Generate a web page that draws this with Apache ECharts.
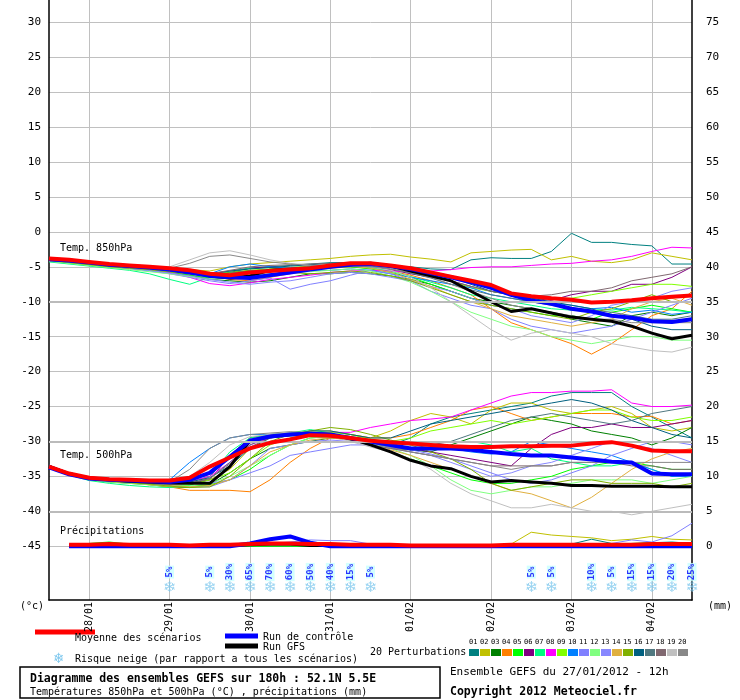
<!DOCTYPE html>
<html><head><meta charset="utf-8">
<script src="https://cdn.jsdelivr.net/npm/echarts@6/dist/echarts.min.js"></script>
<style>html,body{margin:0;padding:0;background:#fff}#c{width:740px;height:700px}</style>
</head><body><div id="c"></div>
<script>
const hours=[0,6,12,18,24,30,36,42,48,54,60,66,72,78,84,90,96,102,108,114,120,126,132,138,144,150,156,162,168,174,180,186,192];
const dateTicks=[12,36,60,84,108,132,156,180];
const dateLabels=['28/01','29/01','30/01','31/01','01/02','02/02','03/02','04/02'];
const leftTicks=[30,25,20,15,10,5,0,-5,-10,-15,-20,-25,-30,-35,-40,-45];
const rightTicks=[0,5,10,15,20,25,30,35,40,45,50,55,60,65,70,75];
const pertColors=['#008080','#c0c000','#008000','#ff8000','#00ff00','#800080','#00ff80','#ff00ff','#80ff00','#0080ff','#8080ff','#80ff80','#8888ff','#e0b040','#80b000','#006080','#507880','#806870','#c0c0c0','#888888'];

const mean850=[-3.8,-4.0,-4.3,-4.6,-4.8,-5.0,-5.2,-5.5,-6.0,-6.2,-5.8,-5.6,-5.4,-5.2,-4.8,-4.5,-4.5,-4.8,-5.2,-5.8,-6.4,-7.0,-7.6,-8.8,-9.2,-9.5,-9.7,-10.1,-10.0,-9.8,-9.5,-9.3,-9.1];
const ctrl850=[-3.9,-4.1,-4.4,-4.7,-4.9,-5.1,-5.4,-5.8,-6.3,-6.5,-6.6,-6.2,-5.8,-5.4,-5.0,-4.7,-4.6,-4.9,-5.3,-5.9,-6.5,-7.2,-8.0,-9.0,-9.8,-10.3,-11.0,-11.4,-12.0,-12.3,-12.8,-12.9,-12.5];
const gfs850=[-3.9,-4.1,-4.4,-4.7,-4.9,-5.1,-5.4,-5.8,-6.3,-6.6,-6.3,-5.5,-5.4,-5.2,-5.0,-4.7,-4.5,-4.9,-5.6,-6.3,-7.0,-8.5,-10.0,-11.4,-11.0,-11.6,-12.2,-12.5,-12.8,-13.5,-14.5,-15.3,-14.8];
const p850_01=[-4.0,-4.3,-4.6,-4.8,-5.0,-5.3,-5.6,-5.9,-6.2,-5.8,-5.2,-5.0,-4.8,-4.6,-4.4,-4.4,-4.6,-4.9,-5.0,-5.3,-5.4,-4.0,-3.7,-3.8,-3.8,-2.8,-0.2,-1.5,-1.5,-1.8,-2.0,-4.6,-4.6];
const p850_02=[-4.2,-4.4,-4.6,-4.7,-4.9,-5.0,-5.2,-5.4,-5.6,-5.0,-4.6,-4.4,-4.2,-4.0,-3.8,-3.5,-3.3,-3.2,-3.6,-3.9,-4.3,-3.0,-2.8,-2.6,-2.5,-4.0,-3.5,-4.2,-4.4,-4.0,-3.0,-3.5,-4.0];
const p850_03=[-4.1,-4.3,-4.6,-4.9,-5.1,-5.4,-5.8,-6.2,-6.8,-7.0,-7.2,-7.0,-6.5,-6.0,-6.0,-5.8,-6.0,-6.3,-6.8,-7.5,-8.5,-9.5,-10.0,-10.5,-11.0,-11.5,-12.5,-13.0,-13.5,-12.0,-11.5,-12.0,-11.5];
const p850_04=[-4.0,-4.2,-4.5,-4.7,-5.0,-5.2,-5.5,-5.9,-6.3,-6.8,-7.0,-6.5,-6.0,-5.5,-5.2,-5.0,-5.2,-5.6,-6.2,-7.0,-8.0,-9.0,-11.0,-13.0,-14.0,-15.0,-16.0,-17.5,-16.0,-14.0,-12.0,-11.0,-8.5];
const p850_05=[-4.2,-4.4,-4.7,-5.0,-5.2,-5.5,-5.8,-6.2,-6.6,-6.4,-6.0,-5.6,-5.4,-5.2,-5.0,-5.0,-5.3,-5.8,-6.5,-7.5,-8.5,-9.5,-10.5,-11.0,-11.5,-12.0,-12.0,-12.5,-11.5,-11.0,-10.5,-11.0,-11.5];
const p850_06=[-4.1,-4.3,-4.5,-4.8,-5.0,-5.2,-5.5,-5.8,-6.0,-5.6,-5.2,-5.0,-5.2,-5.3,-5.0,-4.8,-5.0,-5.4,-6.0,-6.5,-7.0,-7.8,-8.5,-9.0,-9.5,-9.8,-9.0,-8.5,-8.5,-7.5,-7.5,-6.5,-5.0];
const p850_07=[-4.3,-4.6,-4.9,-5.2,-5.5,-6.0,-6.8,-7.5,-6.5,-5.6,-5.2,-5.4,-5.5,-5.3,-5.0,-4.9,-5.1,-5.6,-6.4,-7.2,-8.0,-9.0,-9.5,-10.0,-10.5,-11.0,-11.2,-11.0,-11.2,-10.8,-11.0,-11.2,-11.5];
const p850_08=[-4.0,-4.2,-4.4,-4.7,-4.9,-5.3,-5.8,-6.5,-7.4,-7.7,-7.3,-6.8,-6.5,-6.2,-5.8,-5.6,-5.5,-5.6,-5.7,-5.6,-5.4,-5.1,-5.0,-5.0,-4.8,-4.6,-4.5,-4.2,-4.0,-3.5,-2.8,-2.2,-2.3];
const p850_09=[-4.1,-4.3,-4.6,-4.9,-5.1,-5.4,-5.7,-6.0,-6.3,-5.9,-5.5,-5.3,-5.1,-4.9,-4.7,-4.7,-4.8,-5.0,-5.5,-6.2,-7.0,-8.0,-8.5,-9.0,-9.3,-9.5,-9.5,-9.0,-8.5,-8.0,-7.5,-7.5,-7.8];
const p850_10=[-4.0,-4.2,-4.4,-4.7,-4.9,-5.2,-5.4,-5.7,-6.0,-5.0,-4.6,-5.0,-5.2,-5.5,-5.5,-5.3,-5.5,-6.0,-6.5,-7.0,-7.5,-8.0,-9.0,-9.5,-10.0,-10.2,-10.5,-11.0,-10.8,-11.5,-11.2,-11.8,-11.5];
const p850_11=[-4.2,-4.4,-4.7,-5.0,-5.3,-5.6,-6.0,-6.5,-7.0,-7.4,-7.0,-6.6,-8.2,-7.5,-7.0,-6.2,-5.5,-6.0,-7.0,-8.5,-9.5,-10.5,-11.0,-12.5,-13.5,-14.0,-14.5,-14.0,-13.5,-12.5,-11.5,-10.5,-9.5];
const p850_12=[-4.2,-4.5,-4.8,-5.1,-5.4,-5.7,-6.0,-6.4,-6.8,-6.5,-6.2,-6.0,-5.8,-5.7,-5.5,-5.3,-5.6,-6.3,-7.2,-8.5,-10.0,-11.5,-12.5,-13.5,-14.0,-15.0,-15.5,-16.0,-15.5,-15.0,-15.0,-15.5,-15.5];
const p850_13=[-4.1,-4.3,-4.6,-4.9,-5.2,-5.5,-5.9,-6.3,-6.8,-7.2,-7.5,-7.2,-7.0,-6.5,-6.0,-5.8,-6.0,-6.5,-7.0,-7.8,-8.5,-9.5,-10.5,-11.0,-12.0,-12.5,-13.0,-12.0,-10.5,-10.0,-9.5,-8.5,-8.0];
const p850_14=[-4.0,-4.2,-4.5,-4.8,-5.0,-5.3,-5.6,-6.0,-6.3,-6.0,-5.7,-5.5,-5.4,-5.2,-5.0,-4.9,-5.2,-5.8,-6.8,-7.8,-9.0,-10.0,-11.0,-12.0,-12.5,-13.0,-13.5,-13.0,-12.5,-11.0,-10.0,-9.5,-10.5];
const p850_15=[-4.1,-4.4,-4.7,-5.0,-5.2,-5.4,-5.7,-6.0,-6.2,-5.8,-5.5,-5.5,-5.8,-6.0,-5.8,-5.6,-5.8,-6.3,-7.0,-8.0,-9.0,-10.0,-10.5,-11.0,-11.5,-12.0,-12.5,-11.5,-11.0,-10.0,-9.0,-10.0,-10.0];
const p850_16=[-4.0,-4.2,-4.4,-4.6,-4.8,-5.0,-5.3,-5.6,-6.0,-5.6,-5.3,-5.1,-4.9,-4.7,-4.5,-4.4,-4.5,-4.8,-5.2,-5.8,-6.5,-7.5,-8.5,-9.0,-9.5,-10.0,-10.5,-11.0,-12.0,-12.5,-13.5,-14.0,-14.0];
const p850_17=[-4.1,-4.3,-4.5,-4.8,-5.0,-5.3,-5.6,-5.9,-6.2,-5.9,-5.6,-5.4,-5.1,-5.0,-4.8,-4.7,-4.9,-5.3,-5.9,-6.6,-7.5,-8.3,-9.0,-9.5,-10.0,-10.5,-11.0,-11.2,-11.5,-12.0,-12.5,-12.5,-12.0];
const p850_18=[-4.0,-4.2,-4.4,-4.7,-4.9,-5.2,-5.5,-5.8,-6.0,-5.5,-5.0,-4.8,-4.7,-4.6,-4.5,-4.5,-4.7,-5.1,-5.6,-6.3,-7.0,-7.8,-8.5,-9.0,-9.2,-9.0,-8.5,-8.5,-8.0,-7.0,-6.5,-6.0,-5.0];
const p850_19=[-4.0,-4.2,-4.4,-4.6,-4.8,-5.0,-5.0,-4.0,-3.0,-2.7,-3.3,-4.0,-4.5,-4.8,-4.8,-4.7,-5.0,-5.5,-6.5,-8.0,-10.0,-12.0,-14.0,-15.5,-14.5,-14.0,-14.5,-15.0,-16.0,-16.5,-17.0,-17.2,-16.5];
const p850_20=[-4.1,-4.3,-4.5,-4.7,-4.9,-5.1,-5.2,-4.5,-3.5,-3.3,-3.8,-4.3,-4.6,-4.8,-4.9,-4.8,-5.0,-5.3,-5.8,-6.5,-7.5,-8.5,-9.5,-10.5,-11.0,-11.5,-12.0,-12.5,-12.5,-13.0,-13.0,-13.0,-13.0];

const mean500=[-33.6,-34.6,-35.2,-35.4,-35.5,-35.6,-35.6,-35.2,-33.6,-32.3,-31.0,-30.2,-29.7,-29.1,-29.2,-29.5,-29.9,-30.1,-30.3,-30.5,-30.7,-30.8,-30.8,-30.7,-30.7,-30.6,-30.6,-30.3,-30.1,-30.6,-31.3,-31.4,-31.4];
const ctrl500=[-33.7,-34.7,-35.3,-35.5,-35.6,-35.7,-35.8,-35.5,-34.5,-32.2,-29.9,-29.3,-29.0,-28.9,-29.0,-29.5,-30.0,-30.5,-31.0,-31.0,-31.0,-31.2,-31.5,-31.8,-32.0,-32.0,-32.3,-32.6,-32.9,-33.0,-34.6,-34.7,-34.7];
const gfs500=[-33.6,-34.6,-35.3,-35.5,-35.7,-35.8,-35.9,-36.0,-36.0,-33.6,-29.9,-29.3,-29.0,-28.9,-29.0,-29.6,-30.5,-31.5,-32.7,-33.5,-33.9,-35.0,-35.8,-35.6,-35.8,-36.0,-36.3,-36.3,-36.4,-36.4,-36.4,-36.5,-36.5];
const p500_01=[-33.5,-34.6,-35.3,-35.5,-35.7,-35.8,-36.0,-35.8,-35.0,-32.0,-30.0,-29.5,-29.2,-29.0,-29.0,-29.5,-30.0,-30.5,-29.5,-27.5,-26.5,-26.0,-25.5,-25.0,-24.5,-23.5,-23.0,-23.0,-23.0,-25.0,-26.5,-28.0,-29.5];
const p500_02=[-33.6,-34.7,-35.4,-35.6,-35.8,-36.0,-36.1,-36.0,-35.5,-34.0,-31.0,-29.5,-29.0,-28.5,-28.5,-29.0,-29.5,-28.5,-27.0,-26.0,-26.5,-27.5,-25.5,-24.5,-24.5,-25.5,-26.0,-25.5,-25.0,-26.0,-28.0,-28.5,-28.0];
const p500_03=[-33.4,-34.6,-35.5,-35.8,-36.0,-36.2,-36.5,-36.6,-36.2,-34.5,-32.5,-31.0,-30.5,-30.0,-29.5,-29.7,-30.3,-31.0,-31.2,-31.5,-30.5,-29.5,-28.5,-27.5,-26.5,-27.0,-27.5,-28.5,-29.0,-29.5,-30.5,-29.5,-28.0];
const p500_04=[-33.5,-34.6,-35.4,-35.7,-35.9,-36.2,-36.5,-37.0,-37.0,-37.0,-37.2,-35.5,-33.0,-31.0,-29.5,-29.0,-29.5,-29.5,-29.0,-28.0,-27.0,-25.5,-25.0,-26.0,-27.0,-26.5,-26.0,-26.0,-26.0,-26.5,-26.4,-27.5,-27.0];
const p500_05=[-33.5,-34.6,-35.4,-35.7,-35.9,-36.1,-36.3,-36.4,-36.2,-35.5,-34.0,-32.0,-30.5,-29.5,-29.3,-29.8,-30.5,-31.5,-32.5,-33.5,-34.5,-35.5,-36.0,-36.0,-35.5,-35.0,-34.0,-33.5,-33.0,-33.0,-33.5,-34.0,-34.0];
const p500_06=[-33.5,-34.6,-35.4,-35.6,-35.8,-36.0,-36.2,-36.0,-35.5,-32.0,-29.5,-29.0,-28.8,-28.8,-29.2,-29.8,-30.5,-31.0,-31.0,-31.5,-32.0,-32.5,-33.0,-33.5,-31.0,-29.0,-28.0,-28.0,-27.5,-28.0,-28.0,-27.5,-27.0];
const p500_07=[-33.7,-34.8,-35.6,-36.0,-36.3,-36.5,-36.6,-36.3,-35.0,-31.5,-29.5,-29.0,-28.8,-28.3,-28.8,-29.5,-30.0,-30.3,-30.5,-30.2,-30.0,-30.0,-30.5,-31.5,-31.0,-32.5,-33.0,-33.5,-33.5,-33.0,-34.0,-35.0,-34.5];
const p500_08=[-33.4,-34.5,-35.3,-35.5,-35.7,-35.9,-36.0,-35.8,-35.0,-33.0,-30.5,-29.5,-29.0,-28.8,-28.7,-28.7,-28.0,-27.5,-27.0,-26.8,-26.5,-25.5,-24.5,-23.5,-23.0,-23.0,-22.8,-22.8,-22.6,-24.5,-25.0,-25.0,-24.8];
const p500_09=[-33.5,-34.6,-35.4,-35.7,-35.9,-36.1,-36.3,-36.2,-35.5,-34.5,-32.5,-30.5,-29.5,-29.0,-28.7,-29.0,-29.7,-30.0,-29.5,-28.5,-28.0,-27.5,-27.0,-27.5,-27.0,-26.5,-26.0,-25.5,-25.5,-26.5,-27.0,-27.0,-26.5];
const p500_10=[-33.4,-34.5,-35.3,-35.6,-35.8,-35.9,-35.5,-33.0,-31.0,-29.5,-29.0,-29.0,-29.0,-29.0,-29.3,-29.8,-30.3,-30.8,-31.0,-31.2,-31.0,-31.5,-31.8,-31.5,-30.0,-30.5,-31.0,-31.5,-32.0,-33.0,-34.0,-35.0,-35.0];
const p500_11=[-33.6,-34.8,-35.5,-35.7,-35.8,-36.0,-36.3,-36.5,-36.5,-35.5,-34.5,-33.5,-32.0,-31.5,-31.0,-30.5,-30.5,-30.8,-31.2,-31.8,-32.5,-33.5,-34.5,-35.5,-36.0,-35.5,-34.5,-33.5,-32.0,-31.0,-30.0,-30.0,-30.5];
const p500_12=[-33.6,-34.7,-35.5,-35.8,-36.0,-36.2,-36.4,-36.4,-36.0,-35.0,-33.5,-32.0,-30.5,-29.5,-29.3,-29.7,-30.2,-31.0,-32.0,-33.5,-35.5,-37.0,-37.5,-37.0,-36.5,-36.5,-36.0,-35.5,-35.5,-35.5,-36.0,-35.5,-35.0];
const p500_13=[-33.5,-34.6,-35.3,-35.5,-35.7,-35.8,-36.0,-36.0,-36.0,-35.5,-33.5,-31.0,-30.5,-30.0,-29.8,-30.0,-30.5,-31.0,-31.5,-32.0,-33.0,-34.0,-35.0,-34.5,-33.5,-33.0,-32.0,-31.0,-30.0,-30.5,-31.0,-32.0,-33.0];
const p500_14=[-33.5,-34.6,-35.4,-35.7,-35.9,-36.1,-36.3,-36.5,-36.3,-35.5,-33.5,-31.5,-30.5,-29.8,-29.5,-29.8,-30.5,-31.2,-32.0,-33.0,-34.0,-35.0,-36.0,-37.0,-37.5,-38.5,-39.5,-38.0,-36.0,-34.0,-32.5,-31.5,-31.0];
const p500_15=[-33.5,-34.6,-35.4,-35.7,-35.9,-36.1,-36.4,-36.6,-36.5,-35.0,-32.5,-30.0,-29.0,-28.5,-28.0,-28.3,-29.0,-29.8,-30.5,-31.5,-32.5,-34.0,-36.0,-37.0,-36.5,-36.0,-35.5,-35.5,-36.0,-36.0,-36.0,-36.5,-36.0];
const p500_16=[-33.4,-34.5,-35.3,-35.5,-35.7,-35.9,-36.0,-35.8,-35.2,-33.5,-31.0,-29.5,-29.0,-28.5,-28.5,-29.0,-29.5,-29.5,-28.5,-27.5,-27.0,-26.5,-26.0,-25.5,-25.0,-24.5,-24.0,-24.5,-25.5,-27.0,-28.0,-29.0,-29.5];
const p500_17=[-33.5,-34.6,-35.4,-35.6,-35.8,-36.0,-36.2,-36.0,-35.3,-33.0,-30.5,-29.3,-29.0,-28.8,-29.0,-29.5,-30.2,-30.8,-31.0,-30.5,-30.0,-29.0,-28.0,-27.0,-26.5,-26.0,-26.5,-27.0,-27.5,-27.0,-26.0,-25.5,-25.0];
const p500_18=[-33.5,-34.6,-35.4,-35.6,-35.8,-36.0,-36.2,-36.0,-35.3,-33.2,-30.8,-29.5,-29.2,-29.0,-29.2,-29.8,-30.5,-31.0,-31.5,-32.0,-32.5,-33.0,-33.5,-33.5,-33.5,-33.5,-33.0,-33.0,-33.0,-33.5,-33.5,-34.0,-34.0];
const p500_19=[-33.5,-34.6,-35.3,-35.5,-35.7,-35.8,-35.9,-35.0,-33.0,-30.5,-29.3,-29.0,-28.8,-28.8,-29.2,-30.0,-30.8,-31.5,-32.5,-34.0,-36.0,-37.5,-38.5,-39.5,-39.5,-39.0,-39.5,-40.0,-40.0,-40.5,-40.0,-39.5,-39.0];
const p500_20=[-33.5,-34.6,-35.3,-35.5,-35.7,-35.8,-35.8,-34.0,-31.0,-29.5,-29.0,-28.8,-28.6,-28.7,-29.0,-29.6,-30.2,-30.8,-31.5,-32.0,-32.5,-33.0,-33.5,-34.0,-33.5,-33.5,-33.0,-33.0,-33.0,-33.0,-33.0,-33.0,-33.0];

// precipitation (mm), from 6h on
const precipMean=[null,0.2,0.2,0.3,0.2,0.2,0.2,0.1,0.2,0.2,0.3,0.4,0.4,0.3,0.3,0.2,0.2,0.2,0.1,0.1,0.1,0.1,0.1,0.2,0.2,0.2,0.2,0.2,0.2,0.2,0.3,0.3,0.3];
const precipCtrl=[null,0,0,0,0,0,0,0,0,0,0.4,1.0,1.4,0.5,0,0,0,0,0,0,0,0,0,0,0,0,0,0,0,0,0,0,0];
const precipGfs=[null,0,0,0,0,0,0,0,0.1,0.1,0.2,0.3,0.3,0.1,0.1,0.1,0,0,0,0,0,0,0,0,0,0,0,0,0,0,0,0,0];
const precipP02=[null,0,0,0,0,0,0,0,0,0,0,0,0,0,0,0,0,0,0,0,0,0,0,0.3,2.0,1.6,1.4,1.2,0.8,1.0,1.4,1.0,0.9];
const precipP01=[null,0,0,0,0,0,0,0,0,0,0,0,0,0,0,0,0,0,0,0,0,0,0,0,0,0,0.3,1.0,0.4,0.3,0.5,0.6,0.4];
const precipP11=[null,0,0,0,0,0,0,0,0,0,0,0.4,0.6,0.9,0.8,0.8,0.3,0,0,0,0,0,0,0,0,0,0,0.2,0.4,0.9,0.6,1.5,3.3];
const precipP05=[null,0,0.4,0.6,0.3,0,0,0,0,0,0,0,0,0,0,0,0,0,0,0,0,0,0,0,0,0,0,0,0.2,0.4,0.5,0.4,0.3];

const snowHours=[36,48,54,60,66,72,78,84,90,96,144,150,162,168,174,180,186,192];
const snowPct=[5,5,30,65,70,60,50,40,15,5,5,5,10,5,15,15,20,25];

const p850=[p850_01,p850_02,p850_03,p850_04,p850_05,p850_06,p850_07,p850_08,p850_09,p850_10,p850_11,p850_12,p850_13,p850_14,p850_15,p850_16,p850_17,p850_18,p850_19,p850_20];
const p500=[p500_01,p500_02,p500_03,p500_04,p500_05,p500_06,p500_07,p500_08,p500_09,p500_10,p500_11,p500_12,p500_13,p500_14,p500_15,p500_16,p500_17,p500_18,p500_19,p500_20];
const pair=a=>hours.map((h,i)=>[h,a[i]]);

const series=[];
p850.forEach((a,i)=>series.push({type:'line',data:pair(a),symbol:'none',lineStyle:{width:1,color:pertColors[i]},silent:true,z:2}));
p500.forEach((a,i)=>series.push({type:'line',data:pair(a),symbol:'none',lineStyle:{width:1,color:pertColors[i]},silent:true,z:2}));
[[precipP02,1],[precipP01,0],[precipP11,10],[precipP05,4]].forEach(([a,c])=>series.push({type:'line',yAxisIndex:1,data:pair(a),symbol:'none',lineStyle:{width:1,color:pertColors[c]},z:2}));
series.push({type:'line',data:pair(gfs850),symbol:'none',lineStyle:{width:3,color:'#000'},z:3});
series.push({type:'line',data:pair(gfs500),symbol:'none',lineStyle:{width:3,color:'#000'},z:3});
series.push({type:'line',yAxisIndex:1,data:pair(precipGfs),symbol:'none',lineStyle:{width:3,color:'#000'},z:3});
series.push({type:'line',data:pair(ctrl850),symbol:'none',lineStyle:{width:4,color:'#0000ff'},z:4});
series.push({type:'line',data:pair(ctrl500),symbol:'none',lineStyle:{width:4,color:'#0000ff'},z:4});
series.push({type:'line',yAxisIndex:1,data:pair(precipCtrl),symbol:'none',lineStyle:{width:4,color:'#0000ff'},z:4});
series.push({type:'line',data:pair(mean850),symbol:'none',lineStyle:{width:4,color:'#ff0000'},z:5});
series.push({type:'line',data:pair(mean500),symbol:'none',lineStyle:{width:4,color:'#ff0000'},z:5});
series.push({type:'line',yAxisIndex:1,data:pair(precipMean),symbol:'none',lineStyle:{width:4,color:'#ff0000'},z:5});
series.push({type:'line',data:[],markLine:{silent:true,symbol:'none',label:{show:false},lineStyle:{color:'#bbbbbb',width:2,type:'solid'},data:[{yAxis:-10},{yAxis:-30},{yAxis:-40}]},z:1});
series.push({type:'scatter',data:snowHours.map((h,i)=>[h,-51.0,snowPct[i]]),symbolSize:0,
  label:{show:true,formatter:'❄',fontSize:15,color:'#7ec8ee',fontFamily:'DejaVu Sans'},z:6});
series.push({type:'scatter',data:snowHours.map((h,i)=>[h,-48.7,snowPct[i]]),symbolSize:0,
  label:{show:true,formatter:p=>p.value[2]+'%',rotate:90,fontSize:9,fontWeight:'bold',color:'#0000ff',backgroundColor:'#c8ffff',padding:[0,1],fontFamily:'DejaVu Sans Mono'},z:6});

const mono='DejaVu Sans Mono';
const g=[];
const T=(x,y,t,o)=>g.push(Object.assign({type:'text',x:x,y:y,style:Object.assign({text:t,font:'10px '+mono,fill:'#000',textVerticalAlign:'middle'},o||{})}));
T(60,248,'Temp. 850hPa');T(60,455,'Temp. 500hPa');T(60,531,'Précipitations');
T(20,606,'(°c)');T(708,606,'(mm)');
g.push({type:'line',shape:{x1:35,y1:632,x2:95,y2:632},style:{stroke:'#ff0000',lineWidth:5}});
T(75,638,'Moyenne des scénarios');
g.push({type:'line',shape:{x1:225,y1:636,x2:258,y2:636},style:{stroke:'#0000ff',lineWidth:5}});
T(263,637,'Run de contrôle');
g.push({type:'line',shape:{x1:225,y1:646,x2:258,y2:646},style:{stroke:'#000',lineWidth:5}});
T(263,647,'Run GFS');
T(53,659,'❄',{font:'14px DejaVu Sans',fill:'#7ec8ee'});
T(75,659,'Risque neige (par rapport a tous les scénarios)');
T(370,652,'20 Perturbations');
pertColors.forEach((c,i)=>{
  g.push({type:'rect',shape:{x:469+i*11,y:649,width:10,height:7},style:{fill:c}});
  T(469+i*11,642,String(i+1).padStart(2,'0'),{font:'7px '+mono});
});
g.push({type:'rect',shape:{x:20,y:667,width:420,height:31},style:{fill:'none',stroke:'#000',lineWidth:1.5}});
T(30,679,'Diagramme des ensembles GEFS sur 180h : 52.1N 5.5E',{font:'bold 11.5px '+mono});
T(30,692,'Températures 850hPa et 500hPa (°C) , précipitations (mm)',{font:'10px '+mono});
T(450,672,'Ensemble GEFS du 27/01/2012 - 12h',{font:'11px '+mono});
T(450,692,'Copyright 2012 Meteociel.fr',{font:'bold 11.5px '+mono});

const chart=echarts.init(document.getElementById('c'));
chart.setOption({
  animation:false,
  backgroundColor:'#fff',
  grid:{left:49,right:48,top:0,bottom:100,show:false},
  xAxis:{type:'value',min:0,max:192,
    axisLine:{show:true,onZero:false,lineStyle:{color:'#000',width:1.5}},
    axisTick:{show:false,customValues:dateTicks},
    axisLabel:{customValues:dateTicks,rotate:90,fontFamily:mono,fontSize:10,color:'#000',margin:2,
      formatter:v=>dateLabels[dateTicks.indexOf(v)]||''},
    splitLine:{show:true,lineStyle:{color:'#c0c0c0',width:1}}},
  yAxis:[
    {type:'value',min:-52.7,max:33.2,position:'left',
      axisLine:{show:true,onZero:false,lineStyle:{color:'#000',width:1.5}},
      axisTick:{show:false,customValues:leftTicks},
      axisLabel:{customValues:leftTicks,fontFamily:mono,fontSize:11,color:'#000',margin:8},
      splitLine:{show:true,lineStyle:{color:'#c0c0c0',width:1}}},
    {type:'value',min:-7.7,max:78.2,position:'right',
      axisLine:{show:true,onZero:false,lineStyle:{color:'#000',width:1.5}},
      axisTick:{show:false,customValues:rightTicks},
      axisLabel:{customValues:rightTicks,fontFamily:mono,fontSize:11,color:'#000',margin:14},
      splitLine:{show:false}}
  ],
  graphic:g,
  series:series
});
</script></body></html>
